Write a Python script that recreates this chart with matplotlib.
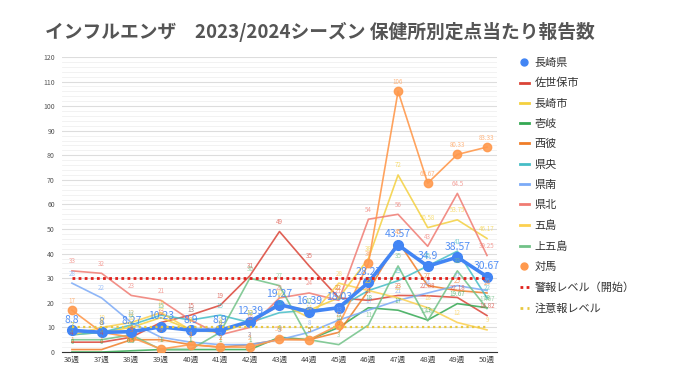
import matplotlib
matplotlib.use("Agg")
import matplotlib.pyplot as plt
from matplotlib.lines import Line2D

plt.rcParams['font.family'] = ['Noto Sans CJK JP', 'DejaVu Sans']

# data
weeks = ["36週", "37週", "38週", "39週", "40週", "41週", "42週", "43週",
         "44週", "45週", "46週", "47週", "48週", "49週", "50週"]

nagasaki_ken = [8.8, 8, 8.27, 10.23, 8.9, 8.9, 12.39, 19.27, 16.39, 18.03, 28.27, 43.57, 34.9, 38.57, 30.67]
sasebo = [4, 4, 6, 12, 15, 19, 31, 49, 35, 22, 21, 23, 22.88, 22.18, 14.82]
nagasaki_shi = [7, 8, 10, 14, 9, 8, 12, 19, 17, 22, 38, 72, 50.58, 53.75, 46.17]
iki = [0, 0, 0.5, 1, 1, 1, 1, 6, 5, 10, 18, 17, 13, 19.67, 18]
seihi = [1, 1, 5, 5, 3, 2, 3, 5, 5, 8, 25, 45, 27, 25, 24]
kenou = [7, 8, 11, 15, 13, 15, 12, 16, 17, 18, 25, 29, 35, 41, 22]
kennan = [28, 22, 12, 6, 4, 3, 3, 5, 8, 13, 17, 21, 24, 27, 25]
kenhoku = [33, 32, 23, 21, 13, 7, 10, 22, 24, 21, 54, 56, 43, 64.5, 39.25]
goto = [7, 10, 12, 16, 9, 9, 12, 20, 14, 28, 25, 22, 18, 12, 9]
kamigoto = [5, 5, 7, 1, 1, 8, 30, 27, 5, 3, 11, 35, 12.67, 33, 17.67]
tsushima = [17, 8, 6, 1.2, 3, 2, 2, 5.3, 5, 11, 36, 106, 68.67, 80.33, 83.33]
keihou = [30] * len(weeks)
chuuihou = [10] * len(weeks)

series = [
    ("長崎県", nagasaki_ken, "#4285F4"),
    ("佐世保市", sasebo, "#DB4437"),
    ("長崎市", nagasaki_shi, "#F4D03F"),
    ("壱岐", iki, "#34A853"),
    ("西彼", seihi, "#F07D28"),
    ("県央", kenou, "#46BDC6"),
    ("県南", kennan, "#7BAAF7"),
    ("県北", kenhoku, "#F07B72"),
    ("五島", goto, "#FCD04F"),
    ("上五島", kamigoto, "#71C287"),
    ("対馬", tsushima, "#FF994D"),
]

fig = plt.figure(figsize=(6.8, 3.82), dpi=100)
ax = fig.add_axes([0.091, 0.0785, 0.64, 0.7725])
x = list(range(len(weeks)))

handles = []
for name, vals, col in series:
    if name == "長崎県":
        ax.plot(x, vals, color=col, lw=2.6, marker='o', ms=7, zorder=5)
        h = Line2D([], [], color=col, marker='o', ls='none', ms=5)
        fs, a = 7.5, 0.9
    elif name == "対馬":
        ax.plot(x, vals, color=col, lw=1.2, marker='o', ms=6, zorder=4, alpha=0.9)
        h = Line2D([], [], color=col, marker='o', ls='none', ms=5)
        fs, a = 4.5, 0.7
    else:
        ax.plot(x, vals, color=col, lw=1.2, zorder=3, alpha=0.85)
        h = Line2D([], [], color=col, lw=2)
        fs, a = 4.5, 0.7
    for xi, v in zip(x, vals):
        ax.annotate(f"{v:g}", (xi, v), xytext=(0, 4), textcoords='offset points',
                    ha='center', va='bottom', fontsize=fs, color=col, alpha=a, zorder=6)
    handles.append(h)

ax.plot(x, keihou, color="#E0201B", lw=2, ls=(0, (1, 1.2)), zorder=6)
ax.plot(x, chuuihou, color="#E8C840", lw=1.6, ls=(0, (1, 1.5)), zorder=6)
handles.append(Line2D([], [], color="#E0201B", lw=2, ls=(0, (1, 1.2))))
handles.append(Line2D([], [], color="#E8C840", lw=2, ls=(0, (1, 1.5))))
labels = [s[0] for s in series] + ["警報レベル（開始）", "注意報レベル"]

ax.set_xlim(-0.34, 14.34)
ax.set_ylim(0, 120)
ax.set_yticks(range(0, 121, 10))
ax.set_yticks(range(0, 121, 2), minor=True)
ax.grid(axis='y', which='major', color='#DDDDDD', lw=0.8)
ax.grid(axis='y', which='minor', color='#F0F0F0', lw=0.6)
ax.set_axisbelow(True)
ax.set_xticks(x)
ax.set_xticklabels(weeks, fontsize=5.5, color='#444444')
ax.tick_params(axis='y', labelsize=5, colors='#555555', length=0, pad=5)
ax.tick_params(axis='y', which='minor', length=0)
ax.tick_params(axis='x', length=0, pad=3)
for s in ['top', 'right', 'left']:
    ax.spines[s].set_visible(False)
ax.spines['bottom'].set_color('#333333')

fig.legend(handles, labels, loc='upper left', bbox_to_anchor=(0.75, 0.875),
           frameon=False, fontsize=8, handlelength=0.8, handletextpad=0.5,
           labelspacing=0.92, labelcolor='#333333')

fig.text(0.066, 0.916, "インフルエンザ　2023/2024シーズン 保健所別定点当たり報告数",
         fontsize=13.5, fontweight='bold', color='#555555', va='center')

fig.savefig("out.png", dpi=100)
